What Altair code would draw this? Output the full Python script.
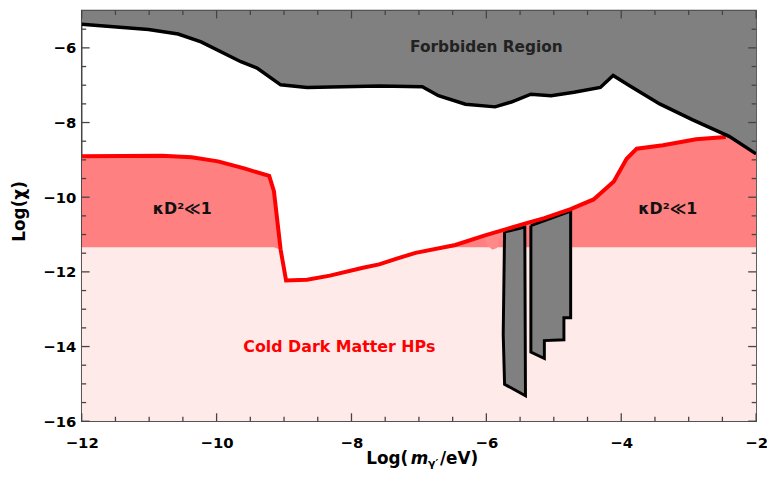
import altair as alt
import pandas as pd

X_MIN, X_MAX = -12, -2
Y_MIN, Y_MAX = -16, -5
PINK_LEVEL = -11.34

# Forbidden region boundary (black curve)
black_x = [-12.0, -11.01, -10.57, -10.23, -9.64, -9.40, -9.05, -8.66, -7.59, -6.95, -6.71,
           -6.31, -5.87, -5.63, -5.34, -5.04, -4.70, -4.31, -4.12, -3.87, -3.43, -2.94, -2.40, -2.0]
black_y = [-5.37, -5.51, -5.63, -5.84, -6.37, -6.54, -6.99, -7.06, -7.02, -7.04, -7.28,
           -7.51, -7.58, -7.45, -7.24, -7.28, -7.19, -7.06, -6.74, -7.02, -7.50, -7.93, -8.37, -8.84]

# Cold dark matter HP boundary (red curve)
red_x = [-12.0, -10.81, -10.37, -9.98, -9.59, -9.22, -9.15, -9.05, -8.97, -8.66, -8.32, -7.83,
         -7.59, -7.34, -7.05, -6.46, -6.02, -5.43, -5.14, -4.75, -4.41, -4.11, -3.92, -3.77,
         -3.38, -2.89, -2.45]
red_y = [-8.905, -8.89, -8.93, -9.04, -9.23, -9.43, -9.84, -11.41, -12.23, -12.21, -12.10, -11.89,
         -11.80, -11.65, -11.49, -11.28, -11.02, -10.71, -10.56, -10.32, -10.06, -9.58, -8.97, -8.70,
         -8.61, -8.45, -8.39]
# red fill continues under the forbidden region to the right edge
fill_tail_x = [-2.0]
fill_tail_y = [-8.33]

# small red lobe below the curve near x = -5.9
bump_x = [-6.06, -5.98, -5.91, -5.84, -5.77]
bump_lo = [-11.0, -11.30, -11.41, -11.36, -10.88]
bump_hi = [-11.03, -10.99, -10.95, -10.92, -10.88]

# excluded vertical strips: fill (x, top, bottom) and outline vertices
bar1_x = [-5.74, -5.42]
bar1_top = [-10.93, -10.80]
bar1_bot = [-15.01, -15.32]
bar1_ox = [-5.73, -5.75, -5.73, -5.42, -5.43, -5.73]
bar1_oy = [-10.93, -13.67, -15.01, -15.32, -10.80, -10.93]

bar2_x = [-5.34, -5.14, -5.138, -4.85, -4.848, -4.75]
bar2_top = [-10.76, -10.63, -10.63, -10.44, -10.44, -10.37]
bar2_bot = [-14.15, -14.32, -13.84, -13.82, -13.23, -13.23]
bar2_ox = [-5.34, -5.34, -5.14, -5.14, -4.85, -4.85, -4.75, -4.75, -5.34]
bar2_oy = [-10.76, -14.15, -14.32, -13.84, -13.82, -13.23, -13.23, -10.37, -10.76]

# tick positions
x_major = [-12, -10, -8, -6, -4, -2]
x_minor = [-11.5, -11, -10.5, -9.5, -9, -8.5, -7.5, -7, -6.5, -5.5, -5, -4.5, -3.5, -3, -2.5]
y_major = [-16, -14, -12, -10, -8, -6]
y_minor = [-15.5, -15, -14.5, -13.5, -13, -12.5, -11.5, -11, -10.5, -9.5, -9, -8.5,
           -7.5, -7, -6.5, -5.5]

labels_text = ["Forbbiden Region", "κD²≪1", "κD²≪1", "Cold Dark Matter HPs"]
labels_x = [-6.0, -10.51, -3.31, -8.18]
labels_y = [-5.97, -10.32, -10.32, -14.02]
labels_color = ["#222222", "#111111", "#111111", "#FF0000"]
labels_size = [15.5, 16, 16, 16]

W, H = 681.5, 415
FONT = "DejaVu Sans"
FRAME = "#444444"

lab_expr = "datum.value < 0 ? '\u2212' + abs(datum.value) : '' + datum.value"
xaxis = alt.Axis(values=x_major, ticks=False, domain=False, grid=False, title=None,
                 labelFont=FONT, labelFontWeight="bold", labelFontSize=15, labelColor="black",
                 labelPadding=15, labelFlush=False, labelOverlap=False, labelExpr=lab_expr)
yaxis = alt.Axis(values=y_major, ticks=False, domain=False, grid=False, title=None,
                 labelFont=FONT, labelFontWeight="bold", labelFontSize=15, labelColor="black",
                 labelPadding=6, labelFlush=False, labelOverlap=False, labelExpr=lab_expr)
xs = alt.Scale(domain=[X_MIN, X_MAX], nice=False, zero=False)
ys = alt.Scale(domain=[Y_MIN, Y_MAX], nice=False, zero=False)


def X(f):
    return alt.X(f, type="quantitative", scale=xs, axis=xaxis)


def Y(f):
    return alt.Y(f, type="quantitative", scale=ys, axis=yaxis)


black_df = pd.DataFrame({"x": black_x, "y": black_y})
red_df = pd.DataFrame({"x": red_x, "y": red_y})
fill_df = pd.DataFrame({"x": red_x + fill_tail_x, "y": red_y + fill_tail_y})
bump_df = pd.DataFrame({"x": bump_x, "lo": bump_lo, "hi": bump_hi})

red_fill = alt.Chart(fill_df).mark_area(color="#FF8080", clip=True).encode(
    x=X("x"), y=Y("y"), y2=alt.datum(Y_MIN))
pink_fill = alt.Chart(fill_df).transform_calculate(
    yp=f"min(datum.y, {PINK_LEVEL})").mark_area(color="#FFEAEA", clip=True).encode(
    x=X("x"), y=Y("yp"), y2=alt.datum(Y_MIN))
bump = alt.Chart(bump_df).mark_area(color="#FF8888", clip=True).encode(
    x=X("x"), y=Y("lo"), y2="hi:Q")

layers = [red_fill, pink_fill, bump]

for bx, bt, bb, ox, oy in [(bar1_x, bar1_top, bar1_bot, bar1_ox, bar1_oy),
                           (bar2_x, bar2_top, bar2_bot, bar2_ox, bar2_oy)]:
    adf = pd.DataFrame({"x": bx, "top": bt, "bot": bb})
    odf = pd.DataFrame({"x": ox, "y": oy, "i": list(range(len(ox)))})
    layers.append(alt.Chart(adf).mark_area(color="#808080", clip=True).encode(
        x=X("x"), y=Y("top"), y2="bot:Q"))
    layers.append(alt.Chart(odf).mark_line(color="black", strokeWidth=3, strokeJoin="miter",
                                           clip=True).encode(
        x=X("x"), y=Y("y"), order=alt.Order("i:Q")))

forb = alt.Chart(black_df).mark_area(color="#808080", clip=True).encode(
    x=X("x"), y=Y("y"), y2=alt.datum(Y_MAX))
red_line = alt.Chart(red_df).mark_line(color="#FF0000", strokeWidth=4, clip=True).encode(
    x=X("x"), y=Y("y"))
black_line = alt.Chart(black_df).mark_line(color="black", strokeWidth=3.5, clip=True).encode(
    x=X("x"), y=Y("y"))
layers += [forb, red_line, black_line]

# inward ticks on all four sides
for vals, ln in [(x_major, 8), (x_minor, 4.5)]:
    d = pd.DataFrame({"v": vals})
    layers.append(alt.Chart(d).mark_rule(color=FRAME, strokeWidth=1.3).encode(
        x=X("v"), y=alt.value(H), y2=alt.value(H - ln)))
    layers.append(alt.Chart(d).mark_rule(color=FRAME, strokeWidth=1.3).encode(
        x=X("v"), y=alt.value(0), y2=alt.value(ln)))
for vals, ln in [(y_major, 8), (y_minor, 4.5)]:
    d = pd.DataFrame({"v": vals})
    layers.append(alt.Chart(d).mark_rule(color=FRAME, strokeWidth=1.3).encode(
        y=Y("v"), x=alt.value(0), x2=alt.value(ln)))
    layers.append(alt.Chart(d).mark_rule(color=FRAME, strokeWidth=1.3).encode(
        y=Y("v"), x=alt.value(W), x2=alt.value(W - ln)))

# annotations
for t, lx, ly, c, sz in zip(labels_text, labels_x, labels_y, labels_color, labels_size):
    d = pd.DataFrame({"x": [lx], "y": [ly], "t": [t]})
    layers.append(alt.Chart(d).mark_text(font=FONT, fontWeight="bold", fontSize=sz,
                                         color=c, align="center", baseline="middle").encode(
        x=X("x"), y=Y("y"), text="t:N"))

# axis titles
title_parts = ["Log(", "m", "γ′", "/eV)"]
title_px = [287.5, 332.5, 350, 362]
title_py = [458.7, 458.7, 461.5, 458.7]
title_size = [17, 17, 11, 17]
title_style = ["normal", "italic", "normal", "normal"]
for t, px, py, sz, st in zip(title_parts, title_px, title_py, title_size, title_style):
    d = pd.DataFrame({"t": [t]})
    layers.append(alt.Chart(d).mark_text(font=FONT, fontWeight="bold", fontSize=sz, fontStyle=st,
                                         color="black", align="left", baseline="alphabetic").encode(
        x=alt.value(px), y=alt.value(py), text="t:N"))

ytitle = pd.DataFrame({"t": ["Log(χ)"]})
layers.append(alt.Chart(ytitle).mark_text(font=FONT, fontWeight="bold", fontSize=17, angle=270,
                                          color="black", align="center", baseline="middle").encode(
    x=alt.value(-62.5), y=alt.value(203), text="t:N"))

chart = alt.layer(*layers).properties(
    width=W, height=H,
    padding={"left": 74.5, "top": 0, "right": 11, "bottom": 71},
    autosize=alt.AutoSizeParams(type="none"),
    background="white",
).configure_view(stroke=FRAME, strokeWidth=1.5)

chart.save("out.html", embed_options={"renderer": "svg", "actions": False})
